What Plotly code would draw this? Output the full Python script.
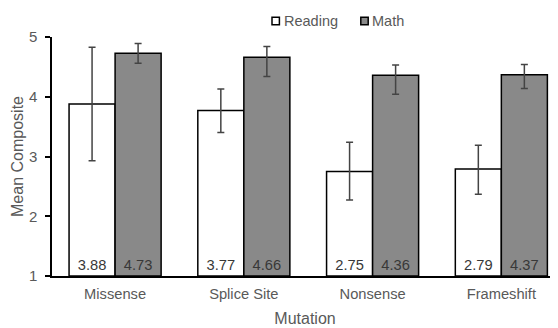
import plotly.graph_objects as go

categories = ["Missense", "Splice Site", "Nonsense", "Frameshift"]
reading = [3.88, 3.77, 2.75, 2.79]
math = [4.73, 4.66, 4.36, 4.37]
reading_err_up = [0.95, 0.36, 0.49, 0.40]
reading_err_down = [0.95, 0.37, 0.48, 0.42]
math_err_up = [0.16, 0.18, 0.17, 0.17]
math_err_down = [0.17, 0.32, 0.32, 0.23]
series_names = ["Reading", "Math"]
series_colors = ["white", "#898989"]

AXIS_MIN = 1
font = "Liberation Sans, Arial, sans-serif"
grey = "#595959"

fig = go.Figure()
for name, vals, up, down, color in [
    (series_names[0], reading, reading_err_up, reading_err_down, series_colors[0]),
    (series_names[1], math, math_err_up, math_err_down, series_colors[1]),
]:
    fig.add_trace(go.Bar(
        name=name, x=categories, y=[v - AXIS_MIN for v in vals], base=AXIS_MIN,
        marker=dict(color=color, line=dict(color="black", width=1.5)),
        error_y=dict(type="data", symmetric=False, array=up, arrayminus=down,
                     color="#444444", thickness=1.5, width=3.5),
        text=[f"{v:.2f}" for v in vals], textposition="inside", insidetextanchor="start",
        insidetextfont=dict(color="#383838", size=14.7, family=font),
        textangle=0, showlegend=False,
    ))

# legend drawn as small squares + labels above the plot
legend_pos = [(0.4421, 0.4559), (0.6176, 0.6304)]
for (sx, tx), name, color in zip(legend_pos, series_names, series_colors):
    fig.add_shape(type="rect", xref="paper", yref="paper", xsizemode="pixel", ysizemode="pixel",
                  xanchor=sx, yanchor=1.0669, x0=-3.7, x1=3.7, y0=-3.8, y1=3.8,
                  fillcolor=color, line=dict(color="black", width=1.5))
    fig.add_annotation(xref="paper", yref="paper", x=tx, y=1.0669, xanchor="left", yanchor="middle",
                       text=name, showarrow=False, xshift=-1,
                       font=dict(size=14.5, color=grey, family=font))

fig.update_layout(
    width=550, height=320,
    margin=dict(l=44, r=0, t=29, b=52),
    plot_bgcolor="white", paper_bgcolor="white",
    barmode="group", bargap=0.285, bargroupgap=0,
    font=dict(family=font, size=14.7, color=grey),
    showlegend=False,
    xaxis=dict(range=[-0.49, 3.44], showline=True, linecolor="black", linewidth=1.5,
               ticks="", showgrid=False, tickfont=dict(size=14.7, color=grey), automargin=False,
               ticklabelstandoff=4,
               title=dict(text="Mutation", font=dict(size=16, color=grey), standoff=11)),
    yaxis=dict(range=[1, 5], showline=True, linecolor="black", linewidth=1.5,
               ticks="outside", ticklen=5, tickcolor="black", tickwidth=1.5, ticklabelstandoff=5,
               dtick=1, showgrid=False, zeroline=False, tickfont=dict(size=15, color=grey),
               automargin=False,
               title=dict(text="Mean Composite", font=dict(size=16, color=grey), standoff=1)),
)

fig.write_html("out.html")
